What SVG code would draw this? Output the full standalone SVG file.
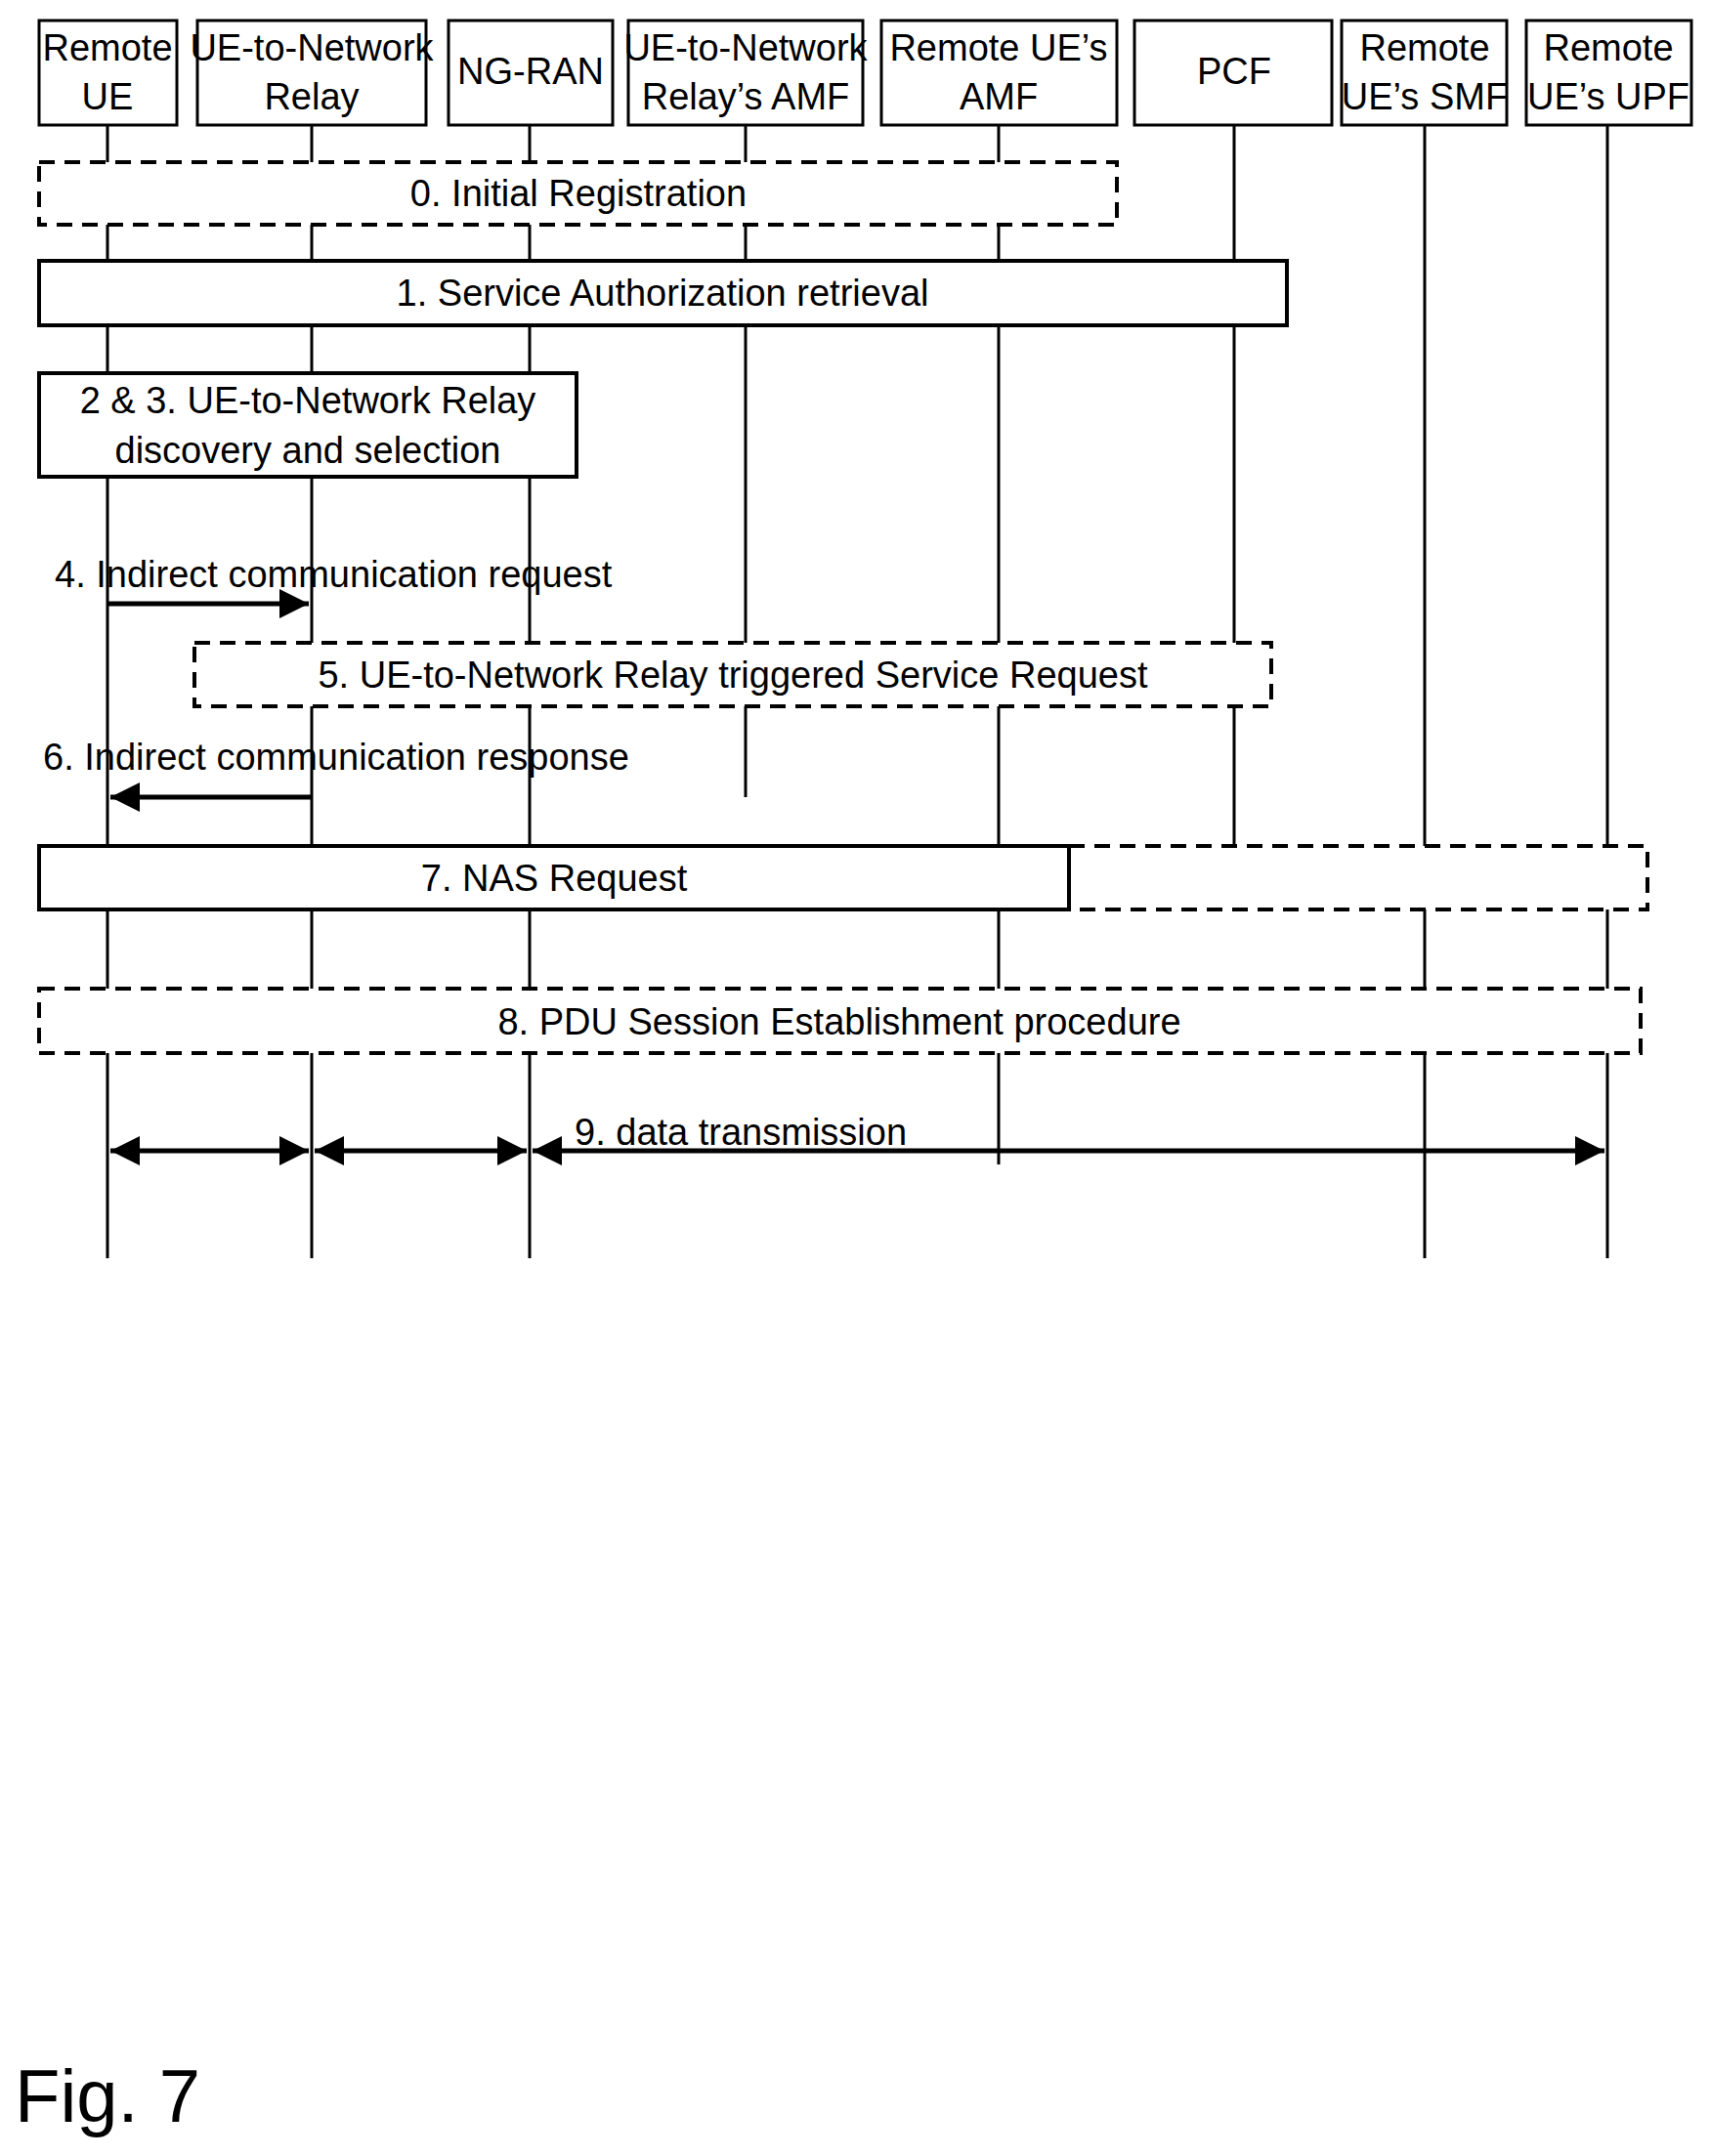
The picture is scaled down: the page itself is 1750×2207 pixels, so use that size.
<svg xmlns="http://www.w3.org/2000/svg" width="1750" height="2207" viewBox="0 0 1750 2207">
<style>
text{font-family:"Liberation Sans Narrow","Liberation Sans",Arial,sans-serif;font-size:38px;fill:#000;text-anchor:middle}
.hd rect{fill:#fff;stroke:#000;stroke-width:3}
.life{stroke:#000;stroke-width:3;fill:none}
.sol{fill:#fff;stroke:#000;stroke-width:4}
.dash{fill:#fff;stroke:#000;stroke-width:4;stroke-dasharray:16 10}
.arr{stroke:#000;stroke-width:5;fill:none}
</style>
<defs>
<marker id="ah" viewBox="0 0 10 10" refX="10" refY="5" markerWidth="6" markerHeight="6" orient="auto-start-reverse" markerUnits="strokeWidth"><path d="M0,0L10,5L0,10z" fill="#000"/></marker>
</defs>
<g id="lifelines">
<line class="life" x1="110" y1="128" x2="110" y2="1288"/>
<line class="life" x1="319" y1="128" x2="319" y2="1288"/>
<line class="life" x1="542" y1="128" x2="542" y2="1288"/>
<line class="life" x1="763" y1="128" x2="763" y2="816"/>
<line class="life" x1="1022" y1="128" x2="1022" y2="1192"/>
<line class="life" x1="1263" y1="128" x2="1263" y2="866"/>
<line class="life" x1="1458" y1="128" x2="1458" y2="1288"/>
<line class="life" x1="1645" y1="128" x2="1645" y2="1288"/>
</g>
<g id="n-remote-ue" class="hd"><rect x="40" y="21" width="141" height="107"/><text x="110" y="62">Remote</text><text x="110" y="112">UE</text></g>
<g id="n-relay" class="hd"><rect x="202" y="21" width="234" height="107"/><text x="319" y="62">UE-to-Network</text><text x="319" y="112">Relay</text></g>
<g id="n-ngran" class="hd"><rect x="459" y="21" width="168" height="107"/><text x="543" y="86">NG-RAN</text></g>
<g id="n-relay-amf" class="hd"><rect x="643" y="21" width="240" height="107"/><text x="763" y="62">UE-to-Network</text><text x="763" y="112">Relay’s AMF</text></g>
<g id="n-remote-amf" class="hd"><rect x="902" y="21" width="241" height="107"/><text x="1022" y="62">Remote UE’s</text><text x="1022" y="112">AMF</text></g>
<g id="n-pcf" class="hd"><rect x="1161" y="21" width="202" height="107"/><text x="1263" y="86">PCF</text></g>
<g id="n-smf" class="hd"><rect x="1373" y="21" width="169" height="107"/><text x="1458" y="62">Remote</text><text x="1458" y="112">UE’s SMF</text></g>
<g id="n-upf" class="hd"><rect x="1562" y="21" width="169" height="107"/><text x="1646" y="62">Remote</text><text x="1646" y="112">UE’s UPF</text></g>
<g id="s0"><rect class="dash" x="40" y="166" width="1103" height="64"/><text x="592" y="211">0. Initial Registration</text></g>
<g id="s1"><rect class="sol" x="40" y="267" width="1277" height="66"/><text x="678" y="313">1. Service Authorization retrieval</text></g>
<g id="s23"><rect class="sol" x="40" y="382" width="550" height="106"/><text x="315" y="423">2 &amp; 3. UE-to-Network Relay</text><text x="315" y="474">discovery and selection</text></g>
<g id="s5"><rect class="dash" x="199" y="658" width="1102" height="65"/><text x="750" y="704">5. UE-to-Network Relay triggered Service Request</text></g>
<g id="s7"><rect class="dash" x="1094" y="866" width="592" height="65"/><rect class="sol" x="40" y="866" width="1054" height="65"/><text x="567" y="912">7. NAS Request</text></g>
<g id="s8"><rect class="dash" x="40" y="1012" width="1639" height="66"/><text x="859" y="1059">8. PDU Session Establishment procedure</text></g>
<g id="connectors">
<line class="arr" x1="110" y1="618" x2="316" y2="618" marker-end="url(#ah)"/>
<text x="56" y="601" style="text-anchor:start">4. Indirect communication request</text>
<line class="arr" x1="319" y1="816" x2="113" y2="816" marker-end="url(#ah)"/>
<text x="44" y="788" style="text-anchor:start">6. Indirect communication response</text>
<line class="arr" x1="113" y1="1178" x2="316" y2="1178" marker-start="url(#ah)" marker-end="url(#ah)"/>
<line class="arr" x1="322" y1="1178" x2="539" y2="1178" marker-start="url(#ah)" marker-end="url(#ah)"/>
<line class="arr" x1="545" y1="1178" x2="1642" y2="1178" marker-start="url(#ah)" marker-end="url(#ah)"/>
<text x="588" y="1172" style="text-anchor:start">9. data transmission</text>
</g>
<text x="15" y="2172" style="text-anchor:start;font-family:'Liberation Sans',Arial,sans-serif;font-size:76px">Fig. 7</text>
</svg>
